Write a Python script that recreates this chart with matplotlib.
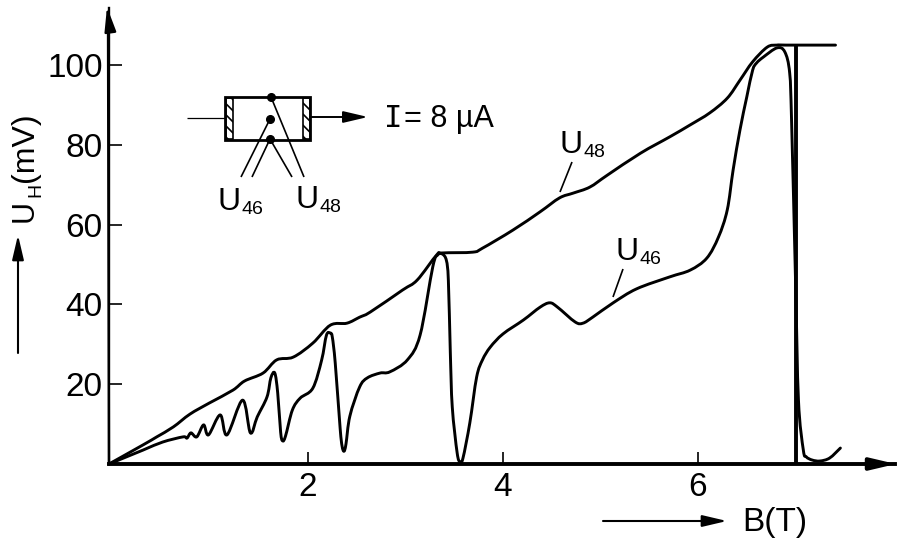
import matplotlib
matplotlib.use('Agg')
from matplotlib import pyplot as plt
from matplotlib.path import Path
from matplotlib.patches import PathPatch, Rectangle
import numpy as np

plt.rcParams['font.family'] = ['Liberation Sans', 'DejaVu Sans']
plt.rcParams['hatch.linewidth'] = 1.2

# values
b48 = [-0.04, 0.31, 0.45, 0.62, 0.79, 0.99, 1.23, 1.35, 1.54, 1.68, 1.85, 2.05, 2.23, 2.40, 2.53,
       2.64, 2.97, 3.12, 3.32, 3.38, 3.69, 3.79, 4.10, 4.38, 4.58, 4.72, 4.89, 5.07, 5.41, 5.71,
       5.92, 6.12, 6.30, 6.43, 6.56, 6.71, 6.81, 6.90, 7.41]
u48 = [0, 4.8, 6.8, 9.3, 12.5, 15.3, 18.5, 20.8, 22.8, 26.1, 26.8, 30.3, 34.8, 35.3, 36.8,
       38.1, 43.6, 46.1, 52.4, 52.9, 53.1, 54.1, 58.6, 63.2, 66.7, 67.9, 69.4, 72.4, 77.9, 82,
       85, 88, 91.7, 96.2, 100.8, 104.5, 105, 105, 105]

b46 = [-0.04, 0.31, 0.51, 0.72, 0.76, 0.80, 0.86, 0.93, 0.98, 1.10, 1.17, 1.33, 1.41, 1.48, 1.58,
       1.62, 1.66, 1.69, 1.72, 1.74, 1.77, 1.84, 1.92, 2.05, 2.14, 2.19, 2.23, 2.25, 2.28, 2.33,
       2.35, 2.37, 2.39, 2.43, 2.53, 2.61, 2.74, 2.84, 3.02, 3.15, 3.28, 3.33, 3.38, 3.42, 3.44,
       3.46, 3.48, 3.53, 3.56, 3.59, 3.66, 3.73, 3.79, 3.87, 4.0, 4.21, 4.38, 4.48, 4.56, 4.74,
       4.82, 4.92, 5.13, 5.37, 5.71, 5.92, 6.09, 6.21, 6.30, 6.36, 6.43, 6.50, 6.56, 6.60, 6.67,
       6.81, 6.89, 6.94, 6.96, 7.0, 7.03, 7.08, 7.11, 7.17, 7.25, 7.35, 7.46]
u46 = [0, 3.5, 5.5, 6.8, 6.5, 7.8, 6.8, 9.8, 7.3, 12.3, 7.3, 16.0, 7.8, 11.8, 16.8,
       21.6, 22.8, 17.8, 8, 5.8, 7, 13.5, 16.5, 19, 26, 32.3, 32.8, 31.8, 25.3, 9,
       4.5, 3.2, 5, 12, 19.3, 21.6, 22.8, 23.1, 26.1, 32.3, 49.4, 52.4, 52.6, 51, 46,
       28, 14.3, 2.8, 0.5, 1.5, 10.3, 21.8, 26.1, 29.3, 32.6, 36.1, 39.3, 40.4, 39.3, 35.6,
       35.3, 36.8, 40.4, 43.9, 46.9, 48.6, 51.6, 56.9, 63.7, 73.7, 83.7, 92, 98.7, 100.5, 102,
       104.3, 103.3, 98, 85.5, 46, 16, 3.5, 1.8, 1, 0.75, 1.5, 4]

xticks = [2, 4, 6]
yticks = [20, 40, 60, 80, 100]
b_drop = 7.0
u_drop = 105


def smooth_path(x, y):
    # catmull-rom through the read points, as bezier segments
    p = np.column_stack([x, y])
    verts = [p[0]]
    codes = [Path.MOVETO]
    for i in range(len(p) - 1):
        p0 = p[max(i - 1, 0)]
        p3 = p[min(i + 2, len(p) - 1)]
        verts += [p[i] + (p[i + 1] - p0) / 6, p[i + 1] - (p3 - p[i]) / 6, p[i + 1]]
        codes += [Path.CURVE4] * 3
    return Path(verts, codes)


fig = plt.figure(figsize=(8.98, 5.41), dpi=100)
ax = fig.add_axes([109 / 898, 1 - 464 / 541, (895 - 109) / 898, (464 - 8) / 541])
ax.set_xlim(-0.04, 8.02)
ax.set_ylim(0, 114.3)
ax.patch.set_alpha(0)
ax.spines['top'].set_visible(False)
ax.spines['right'].set_visible(False)
ax.spines['left'].set_linewidth(1.7)
ax.spines['bottom'].set_linewidth(2.8)
ax.set_xticks(xticks)
ax.set_yticks(yticks)
ax.tick_params(axis='both', direction='in', length=9, width=1.2, labelsize=24)
ax.tick_params(axis='x', pad=6)
ax.tick_params(axis='y', pad=4.5)

for x, y in [(b48, u48), (b46, u46)]:
    ax.add_patch(PathPatch(smooth_path(x, y), fill=False, lw=2.1, ec='black',
                           capstyle='round', joinstyle='round', clip_on=False))
ax.plot([b_drop, b_drop], [0, u_drop], color='black', lw=2.8, solid_capstyle='butt')

# overlay in picture pixels for the sketch, arrows and labels
ov = fig.add_axes([0, 0, 1, 1])
ov.set_xlim(0, 898)
ov.set_ylim(541, 0)
ov.axis('off')


def arrow(x0, y0, x1, y1, lw=1.6, hl=1.15, hw=0.27, ms=13):
    ov.annotate('', xy=(x1, y1), xytext=(x0, y0),
                arrowprops=dict(arrowstyle=f'-|>,head_length={hl},head_width={hw}', mutation_scale=ms,
                                lw=lw, color='black', shrinkA=0, shrinkB=0))


def seg(x0, y0, x1, y1, lw=1.2):
    ov.plot([x0, x1], [y0, y1], color='black', lw=lw, solid_capstyle='butt')


def sub_label(x, y, main, sub, dx=24, dy=4):
    # big letter with its lowered index, x and y are the letter's left end and baseline
    ov.text(x, y, main, fontsize=23, ha='left', va='baseline')
    ov.text(x + dx, y + dy, sub, fontsize=14, ha='left', va='baseline')


arrow(109, 22, 107, 7)
seg(108, 22, 109, 465, lw=1.7)
arrow(872, 464, 896, 464, lw=2.8)
arrow(18, 353, 18, 235, lw=1.5)
arrow(603, 521, 727, 521, lw=1.5)

# y title, rotated in three pieces
ov.text(33, 222, 'U', rotation=90, rotation_mode='anchor', fontsize=22, ha='left', va='baseline')
ov.text(40, 197, 'H', rotation=90, rotation_mode='anchor', fontsize=14, ha='left', va='baseline')
ov.text(33, 182, '(mV)', rotation=90, rotation_mode='anchor', fontsize=23, ha='left', va='baseline')
ov.text(742, 522, 'B(T)', fontsize=24, ha='left', va='center')

# sample sketch
ov.add_patch(Rectangle((225, 97), 85, 43, fill=False, ec='black', lw=2.0))
ov.add_patch(Rectangle((226, 98), 7, 41, fill=False, ec='black', lw=1.2, hatch='\\\\\\'))
ov.add_patch(Rectangle((303, 98), 7, 41, fill=False, ec='black', lw=1.2, hatch='\\\\\\'))
seg(187, 118, 225, 118, lw=0.9)
arrow(310, 117, 368, 117, lw=1.4)
ov.plot([271, 270, 270], [97, 119, 139], 'o', color='black', ms=5.5)
seg(271, 97, 304, 177)
seg(270, 119, 241, 177)
seg(270, 139, 252, 177)
seg(270, 139, 292, 177)
sub_label(218, 210, 'U', '46')
sub_label(295, 208, 'U', '48')
ov.text(384, 127, 'I', fontsize=22, ha='left', va='baseline', family=['DejaVu Sans Mono'])
ov.text(404, 127, '= 8 µA', fontsize=22, ha='left', va='baseline')

# curve labels
seg(572, 162, 560, 192)
seg(623, 269, 613, 297)
sub_label(560, 153, 'U', '48')
sub_label(615, 260, 'U', '46')

fig.savefig('out.png', dpi=100)
